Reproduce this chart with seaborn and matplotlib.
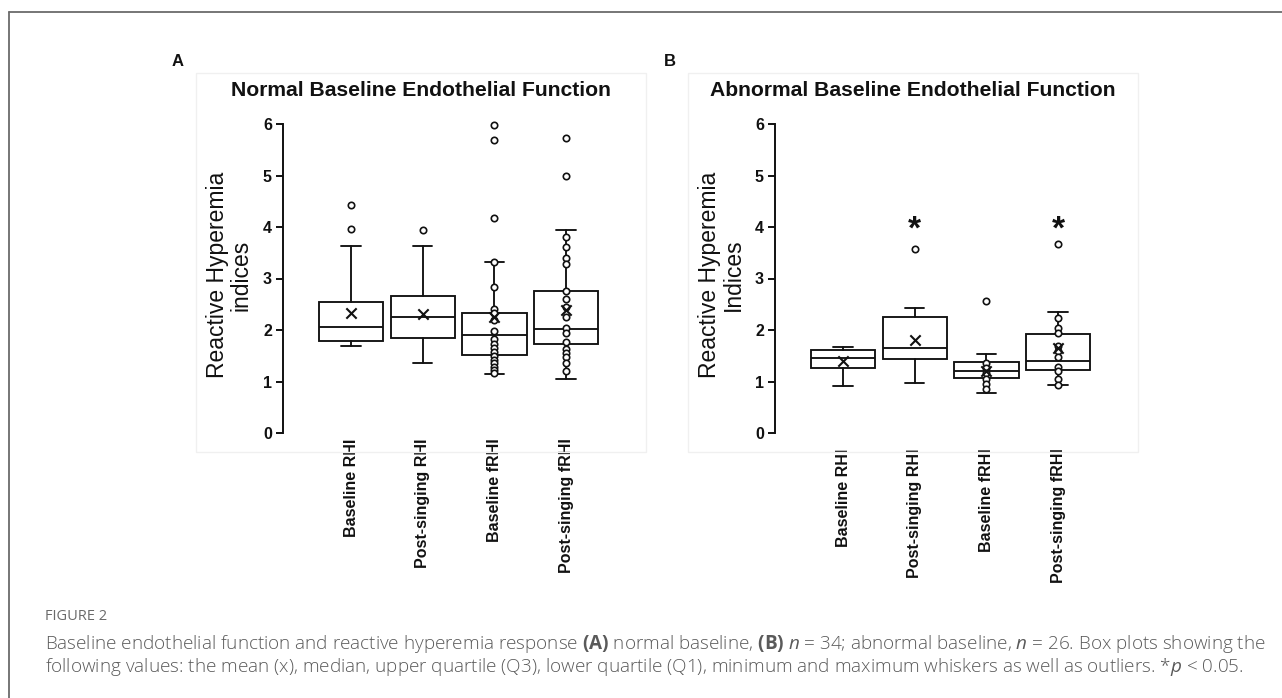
import numpy as np
import pandas as pd
import matplotlib
matplotlib.use("Agg")
import matplotlib.pyplot as plt
from matplotlib.lines import Line2D
from matplotlib.patches import Rectangle
import seaborn as sns

# ---------------- data ----------------
categories = ["Baseline RHI", "Post-singing RHI", "Baseline fRHI", "Post-singing fRHI"]

# Panel A : normal baseline endothelial function
a_title = "Normal Baseline Endothelial Function"
a_ylabel = "Reactive Hyperemia\nindices"
a_whislo = [1.69, 1.36, 1.15, 1.05]
a_q1 = [1.79, 1.84, 1.51, 1.73]
a_median = [2.06, 2.25, 1.90, 2.02]
a_q3 = [2.54, 2.66, 2.33, 2.76]
a_whishi = [3.63, 3.63, 3.32, 3.94]
a_mean = [2.33, 2.31, 2.25, 2.39]
a_outliers = [[3.96, 4.43], [3.94], [4.17, 5.69, 5.98], [5.00, 5.73]]
a_points_bfrhi = [3.32, 2.84, 2.40, 2.33, 2.19, 1.99, 1.82, 1.73, 1.65, 1.57,
                  1.49, 1.42, 1.35, 1.28, 1.22, 1.16]
a_points_pfrhi = [3.81, 3.62, 3.39, 3.28, 2.76, 2.61, 2.44, 2.26, 2.03, 1.94,
                  1.76, 1.64, 1.55, 1.47, 1.35, 1.20]

# Panel B : abnormal baseline endothelial function
b_title = "Abnormal Baseline Endothelial Function"
b_ylabel = "Reactive Hyperemia\nIndices"
b_whislo = [0.91, 0.97, 0.78, 0.93]
b_q1 = [1.26, 1.44, 1.07, 1.22]
b_median = [1.46, 1.65, 1.21, 1.39]
b_q3 = [1.61, 2.25, 1.38, 1.93]
b_whishi = [1.67, 2.43, 1.54, 2.35]
b_mean = [1.40, 1.80, 1.20, 1.65]
b_outliers = [[], [3.57], [2.56], [3.67]]
b_points_bfrhi = [1.35, 1.27, 1.17, 1.05, 0.95, 0.85]
b_points_pfrhi = [2.24, 2.04, 1.94, 1.69, 1.60, 1.48, 1.29, 1.21, 1.04, 0.93]
b_significant = ["Post-singing RHI", "Post-singing fRHI"]
star_level = 4.06

yticks = [0, 1, 2, 3, 4, 5, 6]

caption_head = "FIGURE 2"
caption_1 = (r"Baseline endothelial function and reactive hyperemia response $\mathbf{(A)}$ "
             r"normal baseline, $\mathbf{(B)}$ $n$ = 34; abnormal baseline, $n$ = 26. "
             r"Box plots showing the")
caption_2 = (r"following values: the mean (x), median, upper quartile (Q3), lower quartile (Q1), "
             r"minimum and maximum whiskers as well as outliers. *$p$ < 0.05.")

# ---------------- style ----------------
sns.set_theme(style="white")
plt.rcParams["font.family"] = ["Liberation Sans", "DejaVu Sans"]
plt.rcParams["mathtext.fontset"] = "custom"
plt.rcParams["mathtext.rm"] = "Open Sans"
plt.rcParams["mathtext.it"] = "Open Sans:italic"
plt.rcParams["mathtext.bf"] = "Open Sans:bold"

W, H = 1282, 698
fig = plt.figure(figsize=(W / 100, H / 100), dpi=100)
fig.patch.set_facecolor("white")
INK = "#111111"


def px_axes(left, top, right, bottom):
    return fig.add_axes([left / W, 1 - bottom / H, (right - left) / W, (bottom - top) / H])


def draw_panel(ax, whislo, q1, med, q3, whishi, mean, outliers, pts_b, pts_p, xpad):
    pos = np.arange(len(categories))
    # individual points (fRHI)
    pts_df = pd.DataFrame({
        "group": [categories[2]] * len(pts_b) + [categories[3]] * len(pts_p),
        "value": pts_b + pts_p,
    })
    sns.stripplot(data=pts_df, x="group", y="value", order=categories, jitter=False,
                  ax=ax, size=4.6, color="white", edgecolor=INK, linewidth=1.2,
                  zorder=4)
    # outliers
    out_df = pd.DataFrame({
        "group": [c for c, o in zip(categories, outliers) for _ in o],
        "value": [v for o in outliers for v in o],
    })
    sns.stripplot(data=out_df, x="group", y="value", order=categories, jitter=False,
                  ax=ax, size=4.6, color="white", edgecolor=INK, linewidth=1.2,
                  zorder=4)
    stats = []
    for i, c in enumerate(categories):
        stats.append(dict(label=c, whislo=whislo[i], q1=q1[i], med=med[i], q3=q3[i],
                          whishi=whishi[i], fliers=[]))
    lw = 1.35
    ax.bxp(stats, positions=pos, widths=0.9, capwidths=0.27, showfliers=False,
           patch_artist=True,
           boxprops=dict(facecolor="white", edgecolor=INK, linewidth=lw),
           medianprops=dict(color=INK, linewidth=lw),
           whiskerprops=dict(color=INK, linewidth=lw),
           capprops=dict(color=INK, linewidth=lw), zorder=2)
    sns.scatterplot(x=pos, y=mean, marker="x", s=55, color=INK, linewidth=1.5,
                    ax=ax, zorder=5, legend=False)
    ax.set_xlim(-0.95, 3.5)
    ax.set_ylim(0, 6)
    ax.set_yticks(yticks)
    ax.set_yticklabels([str(t) for t in yticks], fontsize=11.5, fontweight="bold")
    ax.set_xticks(pos)
    ax.set_xticklabels(categories, rotation=90, fontsize=11.5, fontweight="bold")
    ax.tick_params(axis="y", direction="out", length=5, width=1.4, color=INK,
                   pad=3, left=True, labelcolor=INK)
    ax.tick_params(axis="x", length=0, pad=xpad, labelcolor=INK)
    ax.set_xlabel("")
    ax.set_ylabel("")
    sns.despine(ax=ax, bottom=True)
    ax.spines["left"].set_color(INK)
    ax.spines["left"].set_linewidth(1.4)
    ax.set_facecolor("none")
    for coll in ax.collections:
        coll.set_clip_on(False)


# faint panel frames
for x0 in (196, 688):
    fig.patches.append(Rectangle((x0 / W, 1 - 452 / H), 450 / W, (452 - 73) / H,
                                 transform=fig.transFigure, fill=False,
                                 edgecolor="#f0f0f0", linewidth=1.0))

axA = px_axes(283, 124, 602, 433)
draw_panel(axA, a_whislo, a_q1, a_median, a_q3, a_whishi, a_mean, a_outliers,
           a_points_bfrhi, a_points_pfrhi, 4)
axB = px_axes(775, 124, 1094, 433)
draw_panel(axB, b_whislo, b_q1, b_median, b_q3, b_whishi, b_mean, b_outliers,
           b_points_bfrhi, b_points_pfrhi, 11)
for c in b_significant:
    axB.annotate("*", xy=(categories.index(c), star_level), xytext=(0, -4.5),
                 textcoords="offset points", ha="center", va="center",
                 fontsize=24, fontweight="bold", color=INK)

# titles, panel letters, y labels
for dx, title, letter, ylab in ((0, a_title, "A", a_ylabel), (492, b_title, "B", b_ylabel)):
    fig.text((421 + dx) / W, 1 - 91 / H, title, ha="center", va="center",
             fontsize=15.2, fontweight="bold", color=INK)
    fig.text((178 + dx) / W, 1 - 62 / H, letter, ha="center", va="center",
             fontsize=12, fontweight="bold", color=INK)
    fig.text((229 + dx) / W, 1 - 275 / H, ylab, ha="center", va="center",
             rotation=90, fontsize=16.5, color=INK, multialignment="center",
             linespacing=1.05)

# figure border lines
fig.lines.append(Line2D([9 / W, 1.0], [1 - 12 / H, 1 - 12 / H], transform=fig.transFigure,
                        color="#6b6b6b", linewidth=1.3))
fig.lines.append(Line2D([9 / W, 9 / W], [1 - 12 / H, 0], transform=fig.transFigure,
                        color="#6b6b6b", linewidth=1.3))

# caption
fig.text(45 / W, 1 - 616 / H, caption_head, ha="left", va="center", fontsize=10.5,
         color="#6a6a6a", family="Open Sans")
fig.text(45 / W, 1 - 644 / H, caption_1, ha="left", va="center", fontsize=13.6,
         color="#5a5a5a", family="Open Sans", fontweight="light")
fig.text(45 / W, 1 - 667 / H, caption_2, ha="left", va="center", fontsize=13.6,
         color="#5a5a5a", family="Open Sans", fontweight="light")

fig.savefig("out.png", dpi=100, facecolor="white")
